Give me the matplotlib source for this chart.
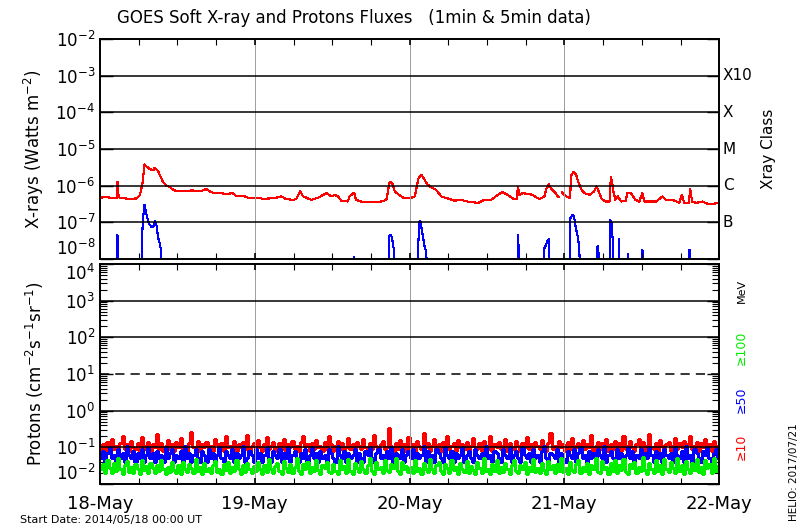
import numpy as np
import matplotlib
matplotlib.use("Agg")
import matplotlib.pyplot as plt
from matplotlib.ticker import FixedLocator, NullFormatter, LogLocator

# ---- GOES X-ray long channel (1-8 A), hours since 2014/05/18 00:00 ----
xl_hours = [0.0, 1.0, 2.0, 2.6, 2.7, 2.9, 3.5, 4.6, 5.7, 6.2, 6.6, 6.9, 7.2, 7.7, 8.3, 8.5,
            9.0, 9.3, 9.8, 10.3, 10.8, 11.4, 11.9, 12.9, 13.4, 14.4, 15.5, 16.5, 17.0, 17.5,
            18.6, 19.6, 20.6, 21.2, 22.2, 23.2, 24.0, 24.5, 25.3, 26.3, 27.3, 28.1, 28.9,
            29.9, 30.4, 31.0, 31.2, 31.5, 32.5, 32.8, 33.8, 35.1, 35.9, 36.4, 36.9, 37.4,
            38.4, 38.7, 39.4, 39.7, 40.5, 42.1, 43.6, 44.4, 44.9, 45.3, 45.7, 46.4, 47.2,
            48.0, 48.8, 49.4, 49.8, 50.3, 50.8, 51.3, 52.1, 52.9, 53.9, 55.0, 56.0, 57.0,
            58.6, 59.6, 60.6, 61.7, 62.4, 63.2, 64.0, 64.6, 64.8, 65.0, 65.5, 66.3, 67.1,
            68.1, 68.9, 69.2, 69.6, 69.9, 70.4, 71.0, 71.2, 71.4, 71.6, 72.3, 72.9, 73.0,
            73.4, 73.8, 74.2, 74.6, 75.1, 75.9, 76.6, 77.0, 77.3, 77.8, 78.4, 79.0, 79.2,
            79.4, 79.6, 79.9, 80.3, 80.8, 81.5, 81.8, 82.3, 83.0, 83.6, 84.1, 84.4, 85.2,
            86.2, 87.2, 87.7, 88.8, 89.8, 90.2, 90.6, 91.3, 91.5, 91.8, 92.4, 93.4, 94.4,
            95.5, 96.0]
xl_flux = [4.7e-7, 4.9e-7, 4.6e-7, 4.6e-7, 1.3e-6, 4.8e-7, 4.6e-7, 4.35e-7, 4.5e-7, 5.6e-7,
           1.2e-6, 3.8e-6, 3.4e-6, 2.8e-6, 2.7e-6, 3.1e-6, 2.5e-6, 1.9e-6, 1.24e-6, 1.0e-6,
           9.2e-7, 7.7e-7, 7.0e-7, 7.0e-7, 7.3e-7, 7.4e-7, 7.0e-7, 8.1e-7, 7.0e-7, 6.5e-7,
           6.25e-7, 6.0e-7, 6.25e-7, 5.1e-7, 5.3e-7, 4.5e-7, 4.5e-7, 4.7e-7, 4.35e-7, 4.5e-7,
           4.7e-7, 5.1e-7, 4.3e-7, 4.1e-7, 4.3e-7, 7.0e-7, 6.25e-7, 5.1e-7, 4.3e-7, 4.1e-7,
           4.7e-7, 6.25e-7, 5.1e-7, 5.6e-7, 5.1e-7, 3.9e-7, 3.7e-7, 5.1e-7, 6.5e-7, 4.1e-7,
           3.7e-7, 3.5e-7, 3.7e-7, 4.1e-7, 1.26e-6, 1.2e-6, 7.0e-7, 5.6e-7, 4.5e-7, 4.5e-7,
           5.1e-7, 1.63e-6, 2.0e-6, 1.47e-6, 1.07e-6, 9.2e-7, 7.7e-7, 5.1e-7, 4.5e-7, 3.9e-7,
           4.1e-7, 3.7e-7, 3.4e-7, 4.1e-7, 4.1e-7, 5.6e-7, 6.7e-7, 5.6e-7, 4.5e-7, 4.3e-7,
           9.2e-7, 5.6e-7, 6.25e-7, 6.0e-7, 5.6e-7, 4.3e-7, 5.1e-7, 8.1e-7, 1.11e-6, 8.6e-7,
           7.0e-7, 5.1e-7, 4.9e-7, np.nan, 6.5e-7, 5.1e-7, 4.5e-7, 1.82e-6, 2.34e-6, 2.0e-6,
           1.2e-6, 8.1e-7, 6.25e-7, 5.6e-7, 7.0e-7, 9.6e-7, 7.0e-7, 4.3e-7, 3.7e-7, 3.7e-7,
           1.74e-6, 1.2e-6, 7.0e-7, 4.1e-7, 5.1e-7, 3.7e-7, 3.9e-7, 6.5e-7, 6.25e-7, 4.1e-7,
           3.7e-7, 6.25e-7, 3.7e-7, 3.7e-7, 3.7e-7, 5.1e-7, 4.1e-7, 4.1e-7, 3.4e-7, 5.6e-7,
           3.3e-7, 3.4e-7, 8.1e-7, 3.7e-7, 3.4e-7, 3.7e-7, 3.1e-7, 3.3e-7, 3.3e-7]

# ---- GOES X-ray short channel (0.5-4 A), only the parts above 1e-8 ----
xs_hours = [2.65, 2.7, 2.8, 2.9, np.nan,
            6.5, 6.5, 6.7, 6.9, 7.1, 7.3, 7.6, 8.0, 8.3, 8.5, 8.8, 9.0, 9.3, 9.5, 9.7, np.nan,
            39.3, 39.4, 39.5, np.nan,
            44.8, 44.8, 45.0, 45.3, 45.4, 45.6, 45.8, np.nan,
            49.3, 49.3, 49.5, 49.7, 49.9, 50.1, 50.3, 50.6, 50.7, np.nan,
            64.8, 64.8, 64.9, 65.0, np.nan,
            68.9, 68.9, 69.2, 69.4, 69.6, 69.7, np.nan,
            72.9, 72.9, 73.3, 73.5, 73.8, 74.1, 74.3, 74.6, np.nan,
            77.0, 77.0, 77.2, 77.3, 77.35, np.nan,
            79.1, 79.1, 79.3, 79.5, 79.6, np.nan,
            80.4, 80.4, 80.5, np.nan,
            81.8, 81.8, 81.9, 82.0, np.nan,
            84.1, 84.1, 84.2, np.nan,
            91.3, 91.3, 91.5, 91.6]
xs_flux = [1e-9, 4.5e-8, 1.6e-8, 1e-9, np.nan,
           1e-9, 3.9e-8, 1.4e-7, 2.96e-7, 1.94e-7, 1.4e-7, 9.2e-8, 7.4e-8, 7.8e-8, 1.07e-7,
           7.8e-8, 3.9e-8, 2.55e-8, 1.5e-8, 1e-9, np.nan,
           1e-9, 1.14e-8, 1e-9, np.nan,
           1e-9, 3.9e-8, 4.6e-8, 3.9e-8, 2.55e-8, 1.67e-8, 1e-9, np.nan,
           1e-9, 1.67e-8, 1.02e-7, 1.07e-7, 6.0e-8, 3.9e-8, 2.3e-8, 1.5e-8, 1e-9, np.nan,
           1e-9, 4.4e-8, 2.15e-8, 1e-9, np.nan,
           1e-9, 2.0e-8, 2.55e-8, 3.2e-8, 3.5e-8, 1e-9, np.nan,
           1e-9, 1.26e-7, 1.63e-7, 1.4e-7, 6.7e-8, 3.9e-8, 1.86e-8, 1e-9, np.nan,
           1e-9, 1.86e-8, 2.3e-8, 1.35e-8, 1e-9, np.nan,
           1e-9, 1.19e-7, 9.6e-8, 3.2e-8, 1e-9, np.nan,
           1e-9, 3.5e-8, 1e-9, np.nan,
           1e-9, 1.35e-8, 1.09e-8, 1e-9, np.nan,
           1e-9, 1.78e-8, 1e-9, np.nan,
           1e-9, 1.78e-8, 1.7e-8, 1e-9]

# ---- GOES protons, 20-min samples ----
p10 = [
    0.09, 0.12, 0.08, 0.14, 0.10, 0.17, 0.09, 0.11, 0.08, 0.13, 0.21, 0.09, 0.12, 0.08, 0.15, 0.10, 0.09, 0.13, 0.08, 0.19, 0.11, 0.09, 0.14, 0.08,
    0.12, 0.10, 0.23, 0.09, 0.13, 0.08, 0.11, 0.16, 0.09, 0.12, 0.08, 0.14, 0.10, 0.18, 0.09, 0.11, 0.08, 0.13, 0.26, 0.10, 0.09, 0.15, 0.08, 0.12,
    0.10, 0.14, 0.09, 0.11, 0.08, 0.17, 0.12, 0.09, 0.13, 0.08, 0.20, 0.10, 0.11, 0.09, 0.15, 0.08, 0.12, 0.10, 0.14, 0.09, 0.22, 0.08, 0.11, 0.13,
    0.09, 0.16, 0.10, 0.08, 0.12, 0.19, 0.09, 0.11, 0.14, 0.08, 0.10, 0.13, 0.09, 0.17, 0.08, 0.12, 0.10, 0.15, 0.09, 0.11, 0.08, 0.14, 0.21, 0.10,
    0.12, 0.08, 0.13, 0.09, 0.16, 0.10, 0.11, 0.08, 0.14, 0.09, 0.20, 0.12, 0.08, 0.11, 0.15, 0.09, 0.13, 0.08, 0.10, 0.18, 0.09, 0.12, 0.08, 0.14,
    0.11, 0.09, 0.17, 0.10, 0.08, 0.13, 0.09, 0.22, 0.11, 0.08, 0.12, 0.15, 0.09, 0.10, 0.34, 0.11, 0.08, 0.13, 0.09, 0.16, 0.10, 0.12, 0.08, 0.19,
    0.09, 0.12, 0.08, 0.15, 0.11, 0.09, 0.24, 0.10, 0.13, 0.08, 0.11, 0.17, 0.09, 0.12, 0.08, 0.14, 0.10, 0.20, 0.09, 0.11, 0.13, 0.08, 0.16, 0.10,
    0.12, 0.09, 0.14, 0.08, 0.11, 0.18, 0.10, 0.09, 0.13, 0.08, 0.15, 0.11, 0.09, 0.21, 0.08, 0.12, 0.10, 0.14, 0.09, 0.11, 0.17, 0.08, 0.13, 0.10,
    0.09, 0.15, 0.11, 0.08, 0.13, 0.10, 0.19, 0.09, 0.12, 0.08, 0.14, 0.11, 0.09, 0.16, 0.10, 0.08, 0.13, 0.25, 0.09, 0.11, 0.08, 0.15, 0.10, 0.12,
    0.08, 0.14, 0.09, 0.18, 0.11, 0.10, 0.13, 0.08, 0.16, 0.09, 0.12, 0.10, 0.22, 0.08, 0.11, 0.14, 0.09, 0.13, 0.10, 0.17, 0.08, 0.12, 0.09, 0.15,
    0.10, 0.13, 0.08, 0.20, 0.09, 0.11, 0.15, 0.10, 0.08, 0.12, 0.17, 0.09, 0.14, 0.08, 0.11, 0.23, 0.10, 0.09, 0.13, 0.08, 0.16, 0.11, 0.09, 0.12,
    0.14, 0.08, 0.11, 0.18, 0.09, 0.13, 0.10, 0.15, 0.08, 0.12, 0.20, 0.09, 0.11, 0.14, 0.08, 0.13, 0.10, 0.17, 0.09, 0.12, 0.08, 0.15, 0.10, 0.11]
p50 = [
    0.05, 0.08, 0.04, 0.07, 0.10, 0.05, 0.06, 0.04, 0.09, 0.05, 0.07, 0.04, 0.11, 0.06, 0.05, 0.08, 0.04, 0.07, 0.05, 0.09, 0.04, 0.06, 0.10, 0.05,
    0.07, 0.04, 0.08, 0.05, 0.06, 0.04, 0.10, 0.05, 0.07, 0.09, 0.04, 0.06, 0.05, 0.08, 0.04, 0.11, 0.05, 0.07, 0.04, 0.06, 0.09, 0.05, 0.04, 0.08,
    0.06, 0.04, 0.09, 0.05, 0.07, 0.04, 0.06, 0.10, 0.05, 0.04, 0.08, 0.06, 0.05, 0.09, 0.04, 0.07, 0.05, 0.06, 0.11, 0.04, 0.05, 0.08, 0.06, 0.04,
    0.09, 0.05, 0.07, 0.04, 0.06, 0.10, 0.05, 0.04, 0.08, 0.06, 0.05, 0.09, 0.04, 0.07, 0.05, 0.10, 0.04, 0.06, 0.08, 0.05, 0.04, 0.07, 0.05, 0.09,
    0.04, 0.06, 0.10, 0.05, 0.07, 0.04, 0.08, 0.05, 0.06, 0.04, 0.09, 0.07, 0.05, 0.04, 0.11, 0.06, 0.05, 0.08, 0.04, 0.07, 0.05, 0.06, 0.09, 0.04,
    0.07, 0.05, 0.04, 0.08, 0.06, 0.10, 0.05, 0.04, 0.07, 0.09, 0.05, 0.06, 0.04, 0.08, 0.05, 0.10, 0.04, 0.07, 0.06, 0.05, 0.09, 0.04, 0.06, 0.08,
    0.05, 0.09, 0.04, 0.07, 0.05, 0.06, 0.11, 0.04, 0.08, 0.05, 0.06, 0.04, 0.09, 0.07, 0.05, 0.04, 0.10, 0.06, 0.05, 0.08, 0.04, 0.07, 0.05, 0.06,
    0.10, 0.04, 0.06, 0.08, 0.05, 0.04, 0.09, 0.06, 0.05, 0.07, 0.04, 0.11, 0.05, 0.06, 0.04, 0.08, 0.07, 0.05, 0.04, 0.09, 0.06, 0.05, 0.10, 0.04,
    0.06, 0.08, 0.05, 0.04, 0.10, 0.06, 0.05, 0.07, 0.04, 0.09, 0.05, 0.06, 0.04, 0.08, 0.11, 0.05, 0.04, 0.07, 0.06, 0.05, 0.09, 0.04, 0.07, 0.05,
    0.04, 0.08, 0.06, 0.05, 0.09, 0.04, 0.07, 0.10, 0.05, 0.06, 0.04, 0.08, 0.05, 0.07, 0.04, 0.09, 0.06, 0.05, 0.11, 0.04, 0.06, 0.08, 0.05, 0.04,
    0.09, 0.05, 0.07, 0.04, 0.06, 0.10, 0.05, 0.08, 0.04, 0.06, 0.05, 0.09, 0.04, 0.07, 0.05, 0.10, 0.06, 0.04, 0.08, 0.05, 0.07, 0.04, 0.09, 0.06,
    0.05, 0.07, 0.04, 0.10, 0.06, 0.05, 0.08, 0.04, 0.11, 0.05, 0.06, 0.04, 0.09, 0.07, 0.05, 0.04, 0.08, 0.06, 0.10, 0.05, 0.04, 0.07, 0.09, 0.05]
p100 = [
    0.025, 0.035, 0.020, 0.045, 0.028, 0.020, 0.038, 0.022, 0.050, 0.025, 0.019, 0.032, 0.042, 0.021, 0.030, 0.020, 0.036, 0.026, 0.019, 0.044, 0.024, 0.031, 0.020, 0.038,
    0.027, 0.020, 0.034, 0.022, 0.046, 0.025, 0.019, 0.030, 0.021, 0.039, 0.024, 0.020, 0.032, 0.019, 0.041, 0.025, 0.021, 0.035, 0.028, 0.020, 0.048, 0.023, 0.030, 0.019,
    0.037, 0.022, 0.027, 0.020, 0.033, 0.043, 0.021, 0.026, 0.019, 0.036, 0.024, 0.040, 0.020, 0.029, 0.022, 0.045, 0.025, 0.019, 0.034, 0.021, 0.038, 0.026, 0.020, 0.031,
    0.022, 0.040, 0.026, 0.019, 0.034, 0.021, 0.047, 0.025, 0.020, 0.031, 0.038, 0.022, 0.019, 0.043, 0.027, 0.021, 0.035, 0.020, 0.029, 0.050, 0.023, 0.019, 0.036, 0.025,
    0.041, 0.020, 0.030, 0.022, 0.046, 0.024, 0.019, 0.033, 0.027, 0.039, 0.021, 0.020, 0.035, 0.022, 0.019, 0.044, 0.026, 0.031, 0.020, 0.048, 0.023, 0.019, 0.037, 0.028,
    0.021, 0.042, 0.025, 0.020, 0.033, 0.052, 0.022, 0.019, 0.039, 0.026, 0.030, 0.020, 0.045, 0.024, 0.021, 0.036, 0.027, 0.050, 0.022, 0.019, 0.040, 0.025, 0.031, 0.021,
    0.030, 0.020, 0.044, 0.023, 0.028, 0.019, 0.037, 0.025, 0.021, 0.048, 0.026, 0.020, 0.033, 0.040, 0.022, 0.019, 0.035, 0.027, 0.020, 0.046, 0.024, 0.030, 0.019, 0.038,
    0.025, 0.021, 0.042, 0.020, 0.031, 0.024, 0.019, 0.039, 0.028, 0.020, 0.050, 0.022, 0.026, 0.019, 0.036, 0.023, 0.044, 0.020, 0.029, 0.021, 0.037, 0.025, 0.019, 0.033,
    0.045, 0.022, 0.020, 0.034, 0.026, 0.041, 0.019, 0.030, 0.023, 0.048, 0.021, 0.027, 0.020, 0.038, 0.024, 0.019, 0.043, 0.025, 0.032, 0.020, 0.036, 0.022, 0.050, 0.021,
    0.028, 0.019, 0.040, 0.024, 0.021, 0.035, 0.046, 0.020, 0.029, 0.022, 0.038, 0.019, 0.033, 0.026, 0.052, 0.021, 0.020, 0.042, 0.025, 0.030, 0.019, 0.037, 0.023, 0.045,
    0.020, 0.032, 0.024, 0.049, 0.021, 0.019, 0.036, 0.027, 0.041, 0.020, 0.030, 0.022, 0.055, 0.024, 0.019, 0.038, 0.026, 0.020, 0.044, 0.023, 0.033, 0.019, 0.047, 0.025,
    0.021, 0.039, 0.028, 0.020, 0.051, 0.023, 0.034, 0.019, 0.042, 0.026, 0.020, 0.037, 0.024, 0.048, 0.021, 0.030, 0.019, 0.044, 0.027, 0.035, 0.020, 0.050, 0.023, 0.031]

day_labels = ["18-May", "19-May", "20-May", "21-May", "22-May"]
class_labels = ["X10", "X", "M", "C", "B"]
class_levels = [1e-3, 1e-4, 1e-5, 1e-6, 1e-7]

p_hours = np.linspace(0, 96, len(p10) + 1)


def style_axis(ax, ymin, ymax):
    ax.set_xlim(0, 96)
    ax.set_yscale("log")
    ax.set_ylim(ymin, ymax)
    decades = [10.0 ** k for k in range(int(np.log10(ymin)), int(np.log10(ymax)) + 1)]
    ax.yaxis.set_major_locator(FixedLocator(decades))
    ax.set_yticklabels([r"$10^{%d}$" % int(np.log10(d)) for d in decades])
    ax.yaxis.set_minor_locator(LogLocator(base=10, subs=np.arange(2, 10)))
    ax.yaxis.set_minor_formatter(NullFormatter())
    ax.set_xticks([0, 24, 48, 72, 96])
    ax.set_xticks(np.arange(0, 97, 6), minor=True)
    ax.tick_params(which="both", direction="in", top=True, right=True, labelsize=12)
    ax.tick_params(axis="y", which="major", length=9, width=1)
    ax.tick_params(axis="y", which="minor", length=5, width=0.8)
    ax.tick_params(axis="x", which="major", length=4, width=1.2)
    ax.tick_params(axis="x", which="minor", length=4, width=0.8)
    ax.xaxis.set_zorder(7)
    for sp in ax.spines.values():
        sp.set_linewidth(1.4)
        sp.set_zorder(7)
    # day separators
    ax.vlines([24, 48, 72], ymin, ymax, colors="#a0a0a0", linewidth=0.7,
              zorder=5, antialiased=False)


fig = plt.figure(figsize=(8, 5.3), dpi=100)
ax1 = fig.add_axes([0.125, 0.5113, 0.774, 0.415])
ax2 = fig.add_axes([0.125, 0.0868, 0.774, 0.415])

# X-ray panel
style_axis(ax1, 1e-8, 1e-2)
ax1.plot(xl_hours, xl_flux, color="red", lw=0.8, zorder=3, antialiased=False)
ax1.plot(xs_hours, xs_flux, color="blue", lw=0.8, zorder=3, antialiased=False)
for lev in class_levels:
    ax1.axhline(lev, color="black", lw=1.1, zorder=6)
ax1.set_xticklabels([])
for lab, lev in zip(class_labels, class_levels):
    ax1.text(1.006, lev, lab, transform=ax1.get_yaxis_transform(), fontsize=11,
             va="center", ha="left")
ax1.text(1.08, 0.5, "Xray Class", transform=ax1.transAxes, rotation=90,
         fontsize=11, va="center", ha="center")
ax1.set_ylabel(r"X-rays (Watts m$^{-2}$)", fontsize=12)
ax1.yaxis.set_label_coords(-0.088, 0.5)

# Proton panel
style_axis(ax2, 1e-2, 1e4)
ax2.plot(p_hours, p10 + [p10[-1]], drawstyle="steps-post", color="red", lw=0.9,
         zorder=2, antialiased=False)
ax2.plot(p_hours, p50 + [p50[-1]], drawstyle="steps-post", color="blue", lw=0.9,
         zorder=3, antialiased=False)
ax2.plot(p_hours, p100 + [p100[-1]], drawstyle="steps-post", color="#00ee00", lw=0.9,
         zorder=4, antialiased=False)
for lev in [1e3, 1e2, 1e0, 1e-1]:
    ax2.axhline(lev, color="black", lw=1.1, zorder=6)
ax2.axhline(1e1, color="black", lw=1.1, ls=(0, (6, 4)), zorder=6)
ax2.set_xticklabels(day_labels, fontsize=13)
ax2.tick_params(axis="x", pad=8)
ax2.set_ylabel(r"Protons (cm$^{-2}$s$^{-1}$sr$^{-1}$)", fontsize=12)
ax2.yaxis.set_label_coords(-0.088, 0.5)

# keep the labels at the panel edges apart from their neighbours
ax1.get_yticklabels()[0].set_va("bottom")
ax2.get_yticklabels()[0].set_va("bottom")
ax2.get_yticklabels()[-1].set_va("top")

ax2.text(1.036, 0.88, "MeV", transform=ax2.transAxes, rotation=90, fontsize=8,
         va="center", ha="center", color="black")
ax2.text(1.036, 0.62, "\u2265100", transform=ax2.transAxes, rotation=90, fontsize=9,
         va="center", ha="center", color="#00ee00")
ax2.text(1.036, 0.385, "\u226550", transform=ax2.transAxes, rotation=90, fontsize=9,
         va="center", ha="center", color="blue")
ax2.text(1.036, 0.17, "\u226510", transform=ax2.transAxes, rotation=90, fontsize=9,
         va="center", ha="center", color="red")

fig.text(0.442, 0.966, "GOES Soft X-ray and Protons Fluxes   (1min & 5min data)",
         fontsize=12, ha="center", va="center")
fig.text(0.025, 0.018, "Start Date: 2014/05/18 00:00 UT", fontsize=8, ha="left", va="center")
fig.text(0.993, 0.11, "HELIO: 2017/07/21", fontsize=7.5, rotation=90, ha="center", va="center")

fig.savefig("out.png", dpi=100)
